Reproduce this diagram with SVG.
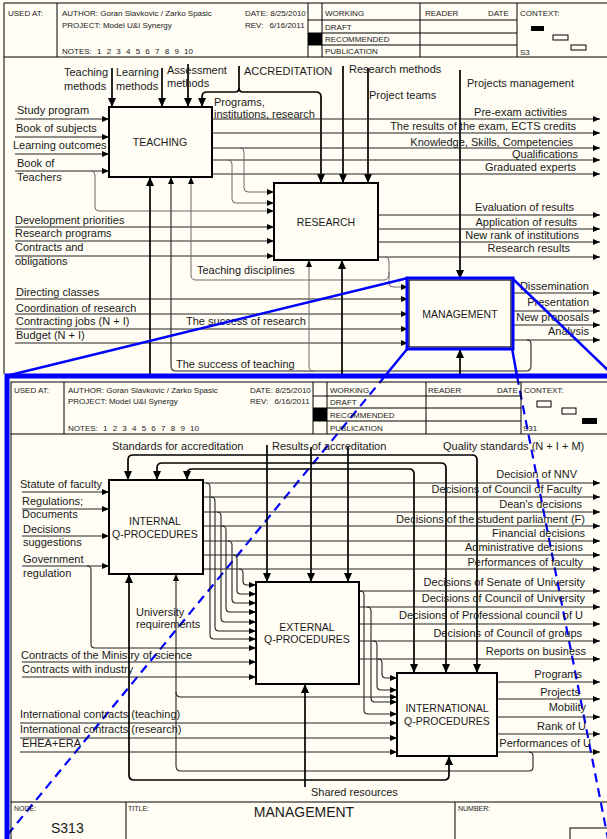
<svg xmlns="http://www.w3.org/2000/svg" width="607" height="839" viewBox="0 0 607 839">
<defs>
<marker id="a" viewBox="0 0 7 6" markerWidth="7" markerHeight="6" refX="7" refY="3" orient="auto" markerUnits="userSpaceOnUse"><path d="M0,0 L7,3 L0,6 z" fill="#000"/></marker>
<marker id="b" viewBox="0 0 9 8" markerWidth="9" markerHeight="8" refX="9" refY="4" orient="auto" markerUnits="userSpaceOnUse"><path d="M0,0 L9,4 L0,8 z" fill="#000"/></marker>
<style>
.ln{stroke:#222;stroke-width:1.1;fill:none}
.gr{stroke:#6a6a6a;stroke-width:1;fill:none}
.th{stroke:#000;stroke-width:1.7;fill:none}
.fr{stroke:#000;stroke-width:1;fill:none}
.box{fill:#fffdf4;stroke:#000;stroke-width:2}
.t{font-family:"Liberation Sans",Arial,sans-serif;font-size:11px;fill:#1a1a1a}
.h{font-family:"Liberation Sans",Arial,sans-serif;font-size:8px;fill:#1a1a1a}
.n{font-family:"Liberation Sans",Arial,sans-serif;font-size:10.5px;fill:#1a1a1a;text-anchor:middle}
.e{text-anchor:end}
.bl{stroke:#0000ff;fill:none}
</style>
</defs>
<rect x="0" y="0" width="607" height="839" fill="#fffdf4"/>

<!-- TOP HEADER -->
<g id="header-top">
<rect x="4" y="3" width="620" height="54" class="fr"/>
<path class="fr" d="M57,3V57 M308,3V57 M322,3V57 M420,3V57 M517,3V57 M308,20H517 M308,33H517 M308,45H517"/>
<rect x="308" y="33" width="14" height="12" fill="#000"/>
<text class="h" x="8" y="16">USED AT:</text>
<text class="h" x="62" y="16">AUTHOR:  Goran Slavkovic / Zarko Spasic</text>
<text class="h" x="62" y="28">PROJECT:  Model U&amp;I Synergy</text>
<text class="h" x="62" y="54" style="word-spacing:3px">NOTES: 1 2 3 4 5 6 7 8 9 10</text>
<text class="h" x="245" y="16">DATE: 8/25/2010</text>
<text class="h" x="245" y="28" style="word-spacing:4px">REV: 6/16/2011</text>
<text class="h" x="325" y="16">WORKING</text>
<text class="h" x="325" y="30">DRAFT</text>
<text class="h" x="325" y="42">RECOMMENDED</text>
<text class="h" x="325" y="54">PUBLICATION</text>
<text class="h" x="425" y="16">READER</text>
<text class="h" x="488" y="16">DATE</text>
<text class="h" x="520" y="16">CONTEXT:</text>
<text class="h" x="520" y="55">S3</text>
<rect x="531" y="26" width="13" height="5" fill="#000"/>
<rect x="553" y="35" width="15" height="5" class="fr"/>
<rect x="571" y="45" width="15" height="5" class="fr"/>
</g>
<path class="fr" d="M4,57V374"/>

<!-- TOP CONNECTORS -->
<g id="connectors-top">
<!-- controls -->
<path class="th" d="M112,68V107" marker-end="url(#b)"/>
<path class="th" d="M162,68V107" marker-end="url(#b)"/>
<path class="th" d="M188,64V107" marker-end="url(#b)"/>
<path class="th" d="M239,66V88 Q239,92 235,92 H207 Q202,92 202,97 V107" marker-end="url(#b)"/>
<path class="th" d="M239,88 Q239,92 243,92 H316 Q321,92 321,97 V183" marker-end="url(#b)"/>
<path class="th" d="M343,66V183" marker-end="url(#b)"/>
<path class="th" d="M368,68V183" marker-end="url(#b)"/>
<path class="th" d="M460,70V279" marker-end="url(#b)"/>
<!-- teaching inputs -->
<path class="ln" d="M15,119H109" marker-end="url(#a)"/>
<path class="ln" d="M15,137H109" marker-end="url(#a)"/>
<path class="ln" d="M15,154H109" marker-end="url(#a)"/>
<path class="ln" d="M15,171H109" marker-end="url(#a)"/>
<!-- teaching outputs -->
<path class="ln" d="M212,119H600" marker-end="url(#a)"/>
<path class="ln" d="M212,133H600" marker-end="url(#a)"/>
<path class="ln" d="M212,148H600" marker-end="url(#a)"/>
<path class="ln" d="M212,160H600" marker-end="url(#a)"/>
<path class="ln" d="M212,174H600" marker-end="url(#a)"/>
<!-- branches to research -->
<path class="gr" d="M240,148 Q244,148 244,152 V188 Q244,192 248,192 H274" marker-end="url(#a)"/>
<path class="gr" d="M228,160 Q232,160 232,164 V199 Q232,203 236,203 H274" marker-end="url(#a)"/>
<path class="gr" d="M91,171 Q95,171 95,175 V207 Q95,211 99,211 H274" marker-end="url(#a)"/>
<!-- research inputs -->
<path class="ln" d="M15,227H274" marker-end="url(#a)"/>
<path class="ln" d="M15,241H274" marker-end="url(#a)"/>
<path class="ln" d="M15,256H274" marker-end="url(#a)"/>
<!-- research outputs -->
<path class="ln" d="M378,215H600" marker-end="url(#a)"/>
<path class="ln" d="M378,229H600" marker-end="url(#a)"/>
<path class="ln" d="M378,242H600" marker-end="url(#a)"/>
<path class="ln" d="M378,257H600" marker-end="url(#a)"/>
<path class="gr" d="M385,257 Q389,257 389,261 V283 Q389,287 393,287 H408" marker-end="url(#a)"/>
<path class="gr" d="M389,272 Q389,280 384,280 H196 Q191,280 191,275 V177" marker-end="url(#a)"/>
<!-- management inputs -->
<path class="ln" d="M15,299H408" marker-end="url(#a)"/>
<path class="ln" d="M15,314H408" marker-end="url(#a)"/>
<path class="ln" d="M15,329H408" marker-end="url(#a)"/>
<path class="ln" d="M15,343H408" marker-end="url(#a)"/>
<!-- management outputs -->
<path class="ln" d="M512,293H600" marker-end="url(#a)"/>
<path class="ln" d="M512,311H600" marker-end="url(#a)"/>
<path class="ln" d="M512,325H600" marker-end="url(#a)"/>
<path class="ln" d="M512,340H600" marker-end="url(#a)"/>
<!-- feedback -->
<path class="ln" d="M527,340 Q531,340 531,344 V366 Q531,371 526,371 H176 Q171,371 171,366 V177" marker-end="url(#a)"/>
<path class="gr" d="M314,371 Q309,371 309,366 V260" marker-end="url(#a)"/>
<!-- mechanisms -->
<path class="th" d="M150,374V177" marker-end="url(#b)"/>
<path class="th" d="M342,374V260" marker-end="url(#b)"/>
<path class="th" d="M460,374V349" marker-end="url(#b)"/>
</g>

<g id="teaching"><rect class="box" x="109" y="107" width="103" height="70"/><text class="n" x="160" y="146">TEACHING</text></g>
<g id="research"><rect class="box" x="274" y="183" width="104" height="77"/><text class="n" x="326" y="226">RESEARCH</text></g>
<g id="management"><rect class="box" x="409" y="280" width="102" height="67" style="stroke-width:1.2"/><rect x="407" y="278" width="106" height="71" class="bl" style="stroke-width:3"/><text class="n" x="460" y="318">MANAGEMENT</text></g>

<g id="labels-top">
<text class="t" x="64" y="76">Teaching</text><text class="t" x="64" y="90">methods</text>
<text class="t" x="116" y="76">Learning</text><text class="t" x="116" y="90">methods</text>
<text class="t" x="167" y="74">Assessment</text><text class="t" x="167" y="87">methods</text>
<text class="t" x="244" y="75">ACCREDITATION</text>
<text class="t" x="214" y="106">Programs,</text><text class="t" x="214" y="118">institutions, research</text>
<text class="t" x="349" y="73">Research methods</text>
<text class="t" x="369" y="99">Project teams</text>
<text class="t" x="467" y="87">Projects management</text>
<text class="t" x="17" y="114">Study program</text>
<text class="t" x="16" y="132">Book of subjects</text>
<text class="t" x="13" y="149">Learning outcomes</text>
<text class="t" x="17" y="167">Book of</text><text class="t" x="17" y="181">Teachers</text>
<text class="t e" x="567" y="116">Pre-exam activities</text>
<text class="t e" x="576" y="130">The results of the exam, ECTS credits</text>
<text class="t e" x="573" y="146">Knowledge, Skills, Competencies</text>
<text class="t e" x="578" y="158">Qualifications</text>
<text class="t e" x="576" y="171">Graduated experts</text>
<text class="t" x="15" y="224">Development priorities</text>
<text class="t" x="15" y="237">Research programs</text>
<text class="t" x="15" y="251">Contracts and</text><text class="t" x="15" y="265">obligations</text>
<text class="t e" x="574" y="211">Evaluation of results</text>
<text class="t e" x="577" y="226">Application of results</text>
<text class="t e" x="579" y="239">New rank of institutions</text>
<text class="t e" x="570" y="252">Research results</text>
<text class="t" x="197" y="274">Teaching disciplines</text>
<text class="t" x="16" y="296">Directing classes</text>
<text class="t" x="16" y="312">Coordination of research</text>
<text class="t" x="16" y="325">Contracting jobs (N + I)</text>
<text class="t" x="16" y="339">Budget (N + I)</text>
<text class="t" x="186" y="325">The success of research</text>
<text class="t" x="176" y="368">The success of teaching</text>
<text class="t e" x="589" y="290">Dissemination</text>
<text class="t e" x="589" y="306">Presentation</text>
<text class="t e" x="589" y="321">New proposals</text>
<text class="t e" x="589" y="335">Analysis</text>
</g>

<!-- BLUE ZOOM LINES -->
<g id="zoom-lines">
<path class="bl" style="stroke-width:2.5" d="M408,278 L6,376 M512,278 L612,374 M408,348 L385,376 M512,348 L517,376"/>
<path class="bl" style="stroke-width:2.2;stroke-dasharray:9,6" d="M385,376 L4,839 M517,376 L608,839"/>
<rect x="7" y="376" width="630" height="480" class="bl" style="stroke-width:5"/>
</g>

<!-- LOWER HEADER -->
<g id="header-bottom">
<rect x="11" y="382" width="620" height="52" class="fr"/>
<path class="fr" d="M64,382V434 M313,382V434 M327,382V434 M426,382V434 M521,382V434 M313,396H521 M313,408H521 M313,421H521"/>
<rect x="313" y="408" width="14" height="13" fill="#000"/>
<text class="h" x="14" y="393">USED AT:</text>
<text class="h" x="68" y="393">AUTHOR:  Goran Slavkovic / Zarko Spasic</text>
<text class="h" x="68" y="404">PROJECT:  Model U&amp;I Synergy</text>
<text class="h" x="68" y="431" style="word-spacing:3px">NOTES: 1 2 3 4 5 6 7 8 9 10</text>
<text class="h" x="250" y="393">DATE: 8/25/2010</text>
<text class="h" x="250" y="404" style="word-spacing:4px">REV: 6/16/2011</text>
<text class="h" x="330" y="393">WORKING</text>
<text class="h" x="330" y="405">DRAFT</text>
<text class="h" x="330" y="418">RECOMMENDED</text>
<text class="h" x="330" y="431">PUBLICATION</text>
<text class="h" x="428" y="393">READER</text>
<text class="h" x="497" y="393">DATE</text>
<text class="h" x="524" y="393">CONTEXT:</text>
<text class="h" x="523" y="431">S31</text>
<rect x="537" y="401" width="14" height="6" class="fr"/>
<rect x="562" y="408" width="14" height="6" class="fr"/>
<rect x="582" y="418" width="15" height="6" fill="#000"/>
</g>
<path class="fr" d="M11,434V839 M11,802H607 M126,802V839 M455,802V839"/>
<rect x="570" y="828" width="40" height="14" class="fr"/>

<!-- LOWER CONNECTORS -->
<g id="connectors-bottom">
<!-- controls -->
<path class="th" d="M300,455 H133 Q128,455 128,460 V480" marker-end="url(#b)"/>
<path class="th" d="M300,455 H472 Q477,455 477,460 V673" marker-end="url(#b)"/>
<path class="th" d="M300,463 H162 Q157,463 157,468 V480" marker-end="url(#b)"/>
<path class="th" d="M300,463 H441 Q446,463 446,468 V673" marker-end="url(#b)"/>
<path class="th" d="M300,469 H192 Q187,469 187,474 V480" marker-end="url(#b)"/>
<path class="th" d="M300,469 H409 Q414,469 414,474 V673" marker-end="url(#b)"/>
<path class="th" d="M267,445V582" marker-end="url(#b)"/>
<path class="th" d="M311,447V582" marker-end="url(#b)"/>
<path class="th" d="M348,447V582" marker-end="url(#b)"/>
<!-- internal inputs -->
<path class="ln" d="M22,492H109" marker-end="url(#a)"/>
<path class="ln" d="M22,509H109" marker-end="url(#a)"/>
<path class="ln" d="M22,536H109" marker-end="url(#a)"/>
<path class="ln" d="M22,566H109" marker-end="url(#a)"/>
<!-- internal outputs -->
<path class="ln" d="M203,483H600" marker-end="url(#a)"/>
<path class="ln" d="M203,497H600" marker-end="url(#a)"/>
<path class="ln" d="M203,512H600" marker-end="url(#a)"/>
<path class="ln" d="M203,526H600" marker-end="url(#a)"/>
<path class="ln" d="M203,541H600" marker-end="url(#a)"/>
<path class="ln" d="M203,555H600" marker-end="url(#a)"/>
<path class="ln" d="M203,569H600" marker-end="url(#a)"/>
<!-- branches to external -->
<path class="ln" d="M206,483 Q210,483 210,487 V635 Q210,639 214,639 H256" marker-end="url(#a)"/>
<path class="ln" d="M211,497 Q215,497 215,501 V627 Q215,631 219,631 H256" marker-end="url(#a)"/>
<path class="ln" d="M217,512 Q221,512 221,516 V618 Q221,622 225,622 H256" marker-end="url(#a)"/>
<path class="ln" d="M222,526 Q226,526 226,530 V608 Q226,612 230,612 H256" marker-end="url(#a)"/>
<path class="ln" d="M228,541 Q232,541 232,545 V599 Q232,603 236,603 H256" marker-end="url(#a)"/>
<path class="ln" d="M233,555 Q237,555 237,559 V590 Q237,594 241,594 H256" marker-end="url(#a)"/>
<path class="ln" d="M239,569 Q243,569 243,573 V581 Q243,585 247,585 H256" marker-end="url(#a)"/>
<path class="ln" d="M87,566 Q91,566 91,570 V644 Q91,648 95,648 H256" marker-end="url(#a)"/>
<path class="ln" d="M22,662H256" marker-end="url(#a)"/>
<path class="ln" d="M22,677H256" marker-end="url(#a)"/>
<!-- external outputs -->
<path class="ln" d="M359,591H600" marker-end="url(#a)"/>
<path class="ln" d="M359,607H600" marker-end="url(#a)"/>
<path class="ln" d="M359,624H600" marker-end="url(#a)"/>
<path class="ln" d="M359,641H600" marker-end="url(#a)"/>
<path class="ln" d="M359,659H600" marker-end="url(#a)"/>
<!-- branches to international -->
<path class="ln" d="M360,591 Q364,591 364,595 V710 Q364,714 368,714 H397" marker-end="url(#a)"/>
<path class="ln" d="M367,607 Q371,607 371,611 V698 Q371,702 375,702 H397" marker-end="url(#a)"/>
<path class="ln" d="M373,641 Q377,641 377,645 V686 Q377,690 381,690 H397" marker-end="url(#a)"/>
<path class="ln" d="M378,659 Q382,659 382,663 V674 Q382,678 386,678 H397" marker-end="url(#a)"/>
<!-- international inputs -->
<path class="ln" d="M20,723H397" marker-end="url(#a)"/>
<path class="ln" d="M20,738H397" marker-end="url(#a)"/>
<path class="ln" d="M20,752H397" marker-end="url(#a)"/>
<!-- international outputs -->
<path class="ln" d="M497,682H600" marker-end="url(#a)"/>
<path class="ln" d="M497,699H600" marker-end="url(#a)"/>
<path class="ln" d="M497,717H600" marker-end="url(#a)"/>
<path class="ln" d="M497,734H600" marker-end="url(#a)"/>
<path class="ln" d="M497,752H600" marker-end="url(#a)"/>
<!-- university requirements feedback -->
<path class="ln" d="M529,752 Q533,752 533,756 V767 Q533,771 529,771 H181 Q176,771 176,766 V574" marker-end="url(#a)"/>
<path class="ln" d="M176,692 Q176,697 181,697 H397" marker-end="url(#a)"/>
<!-- shared resources -->
<path class="th" d="M305,780 H134 Q129,780 129,775 V574" marker-end="url(#b)"/>
<path class="th" d="M305,780 H444 Q449,780 449,775 V756" marker-end="url(#b)"/>
<path class="th" d="M305,787 V684" marker-end="url(#b)"/>
</g>

<g id="internal"><rect class="box" x="109" y="480" width="94" height="94"/><text class="n" x="155" y="525">INTERNAL</text><text class="n" x="155" y="538">Q-PROCEDURES</text></g>
<g id="external"><rect class="box" x="256" y="582" width="103" height="102"/><text class="n" x="307" y="631">EXTERNAL</text><text class="n" x="307" y="643">Q-PROCEDURES</text></g>
<g id="international"><rect class="box" x="397" y="673" width="100" height="83"/><text class="n" x="447" y="712">INTERNATIONAL</text><text class="n" x="447" y="725">Q-PROCEDURES</text></g>

<g id="labels-bottom">
<text class="t" x="112" y="450">Standards for accreditation</text>
<text class="t" x="272" y="450">Results of accreditation</text>
<text class="t" x="443" y="450">Quality standards (N + I + M)</text>
<text class="t" x="20" y="488">Statute of faculty</text>
<text class="t" x="22" y="505">Regulations;</text><text class="t" x="22" y="518">Documents</text>
<text class="t" x="23" y="533">Decisions</text><text class="t" x="23" y="546">suggestions</text>
<text class="t" x="23" y="563">Government</text><text class="t" x="23" y="577">regulation</text>
<text class="t e" x="577" y="478">Decision of NNV</text>
<text class="t e" x="582" y="493">Decisions of Council of Faculty</text>
<text class="t e" x="582" y="508">Dean's decisions</text>
<text class="t e" x="585" y="523">Decisions of the student parliament (F)</text>
<text class="t e" x="585" y="537">Financial decisions</text>
<text class="t e" x="583" y="551">Administrative decisions</text>
<text class="t e" x="583" y="566">Performances of faculty</text>
<text class="t" x="136" y="616">University</text><text class="t" x="136" y="628">requirements</text>
<text class="t" x="21" y="659">Contracts of the Ministry of science</text>
<text class="t" x="22" y="673">Contracts with industry</text>
<text class="t e" x="585" y="586">Decisions of Senate of University</text>
<text class="t e" x="585" y="602">Decisions of Council of University</text>
<text class="t e" x="583" y="619">Decisions of Professional council of U</text>
<text class="t e" x="582" y="637">Decisions of Council of groups</text>
<text class="t e" x="586" y="655">Reports on business</text>
<text class="t e" x="582" y="678">Programs</text>
<text class="t e" x="580" y="696">Projects</text>
<text class="t e" x="586" y="711">Mobility</text>
<text class="t e" x="586" y="730">Rank of U</text>
<text class="t e" x="591" y="747">Performances of U</text>
<text class="t" x="20" y="718">International contracts (teaching)</text>
<text class="t" x="20" y="733">International contracts (research)</text>
<text class="t" x="22" y="747">EHEA+ERA</text>
<text class="t" x="311" y="796">Shared resources</text>
</g>

<g id="footer">
<text class="h" x="14" y="811" style="font-size:7px">NODE:</text>
<text class="t" x="51" y="833" style="font-size:14px">S313</text>
<text class="h" x="128" y="811" style="font-size:7px">TITLE:</text>
<text class="t" x="304" y="817" style="font-size:14px;text-anchor:middle">MANAGEMENT</text>
<text class="h" x="458" y="811" style="font-size:7px">NUMBER:</text>
</g>
</svg>
